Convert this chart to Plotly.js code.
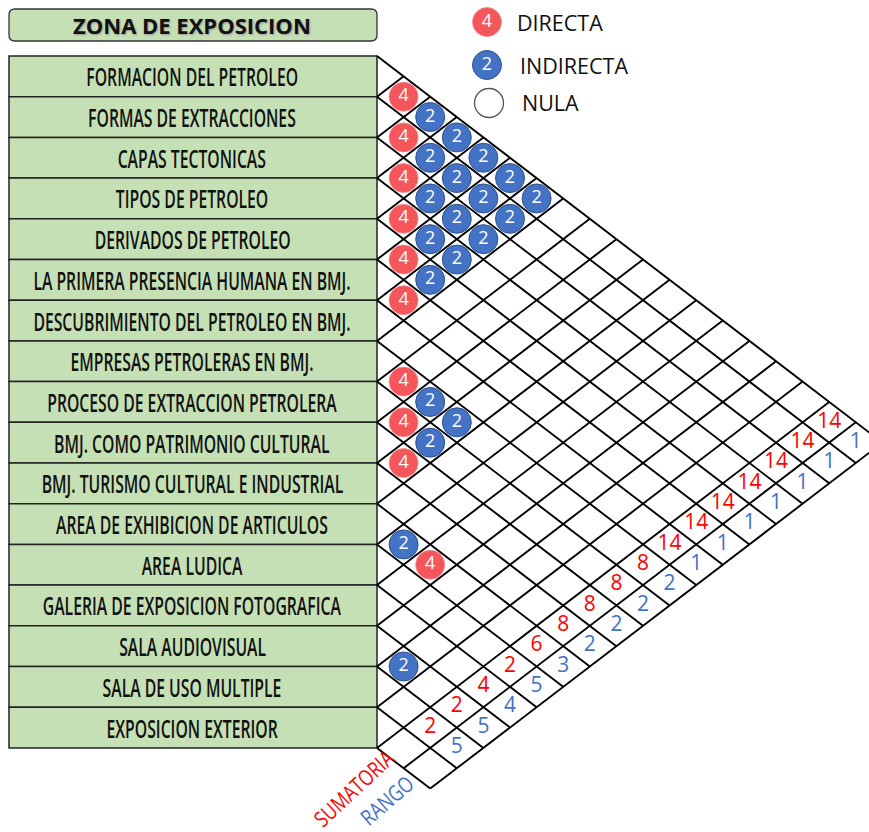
<!DOCTYPE html>
<html><head><meta charset="utf-8">
<script src="https://cdn.plot.ly/plotly-3.0.1.min.js"></script>
<style>html,body{margin:0;padding:0;background:#fff}</style>
</head><body>
<div id="chart" style="width:869px;height:832px"></div>
<script>
// ---------- data ----------
const items = [
  "FORMACION DEL PETROLEO",
  "FORMAS DE EXTRACCIONES",
  "CAPAS TECTONICAS",
  "TIPOS DE PETROLEO",
  "DERIVADOS DE PETROLEO",
  "LA PRIMERA PRESENCIA HUMANA EN BMJ.",
  "DESCUBRIMIENTO DEL PETROLEO EN BMJ.",
  "EMPRESAS PETROLERAS EN BMJ.",
  "PROCESO DE EXTRACCION PETROLERA",
  "BMJ. COMO PATRIMONIO CULTURAL",
  "BMJ. TURISMO CULTURAL E INDUSTRIAL",
  "AREA DE EXHIBICION DE ARTICULOS",
  "AREA LUDICA",
  "GALERIA DE EXPOSICION FOTOGRAFICA",
  "SALA AUDIOVISUAL",
  "SALA DE USO MULTIPLE",
  "EXPOSICION EXTERIOR"
];
const directFrom   = [0,1,2,3,4,5,7,8,9,11];
const directTo     = [1,2,3,4,5,6,8,9,10,13];
const directValue  = 4;
const indirectFrom = [0,1,2,3,4,0,1,2,3,0,1,2,0,1,0,7,7,8,11,14];
const indirectTo   = [2,3,4,5,6,3,4,5,6,4,5,6,5,6,6,9,10,10,12,15];
const indirectValue = 2;
const sumatoria = [14,14,14,14,14,14,14,8,8,8,8,6,2,4,2,2];
const rango     = [1,1,1,1,1,1,1,2,2,2,2,3,5,4,5,5];
const titleText = "ZONA DE EXPOSICION";
const legendLabels = ["DIRECTA","INDIRECTA","NULA"];

// ---------- geometry ----------
const W=869, H=832, X0=377, Y0=56, ROW=40.7, HW=26.6, BOXL=9;
const px2x = p => (p - X0) / HW;
const py2y = p => (p - Y0) / (ROW / 2);
const N = items.length, NR = N + 2;
const cellX = (i, j) => j - i;
const cellY = (i, j) => i + j + 1;

const RED = '#F4565B', BLUE = '#4472C4';
const NUMFONT = 'Open Sans, Noto Sans, sans-serif';
const LABFONT = 'Open Sans, sans-serif';

// grid lines
const gx = [], gy = [];
for (let k = 0; k <= N; k++) { gx.push(0, NR - k, null); gy.push(2*k, 2*k + NR - k, null); }
for (let k = 1; k <= NR; k++) { const xs = Math.max(0, k - N); gx.push(xs, k, null); gy.push(2*k - xs, k, null); }

const traces = [];
traces.push({type:'scatter', mode:'lines', x:gx, y:gy, line:{color:'#000', width:1.9},
  hoverinfo:'skip'});

traces.push({type:'scatter', mode:'markers+text',
  x: directFrom.map((a,n)=>cellX(a,directTo[n])),
  y: directFrom.map((a,n)=>cellY(a,directTo[n])),
  text: directFrom.map(()=>String(directValue)),
  textposition:'middle center',
  textfont:{family:NUMFONT, size:18, color:'#fff'},
  marker:{size:29, color:RED, line:{color:'#f08a8d', width:0.8}}, hoverinfo:'skip'});

traces.push({type:'scatter', mode:'markers+text',
  x: indirectFrom.map((a,n)=>cellX(a,indirectTo[n])),
  y: indirectFrom.map((a,n)=>cellY(a,indirectTo[n])),
  text: indirectFrom.map(()=>String(indirectValue)),
  textposition:'middle center',
  textfont:{family:NUMFONT, size:18, color:'#fff'},
  marker:{size:29, color:BLUE, line:{color:'#2F528F', width:1}}, hoverinfo:'skip'});

traces.push({type:'scatter', mode:'text',
  x: sumatoria.map((v,i)=>cellX(i,N)), y: sumatoria.map((v,i)=>cellY(i,N)),
  text: sumatoria.map(String), textposition:'middle center',
  textfont:{family:NUMFONT, size:21, color:'#FF0000'}, hoverinfo:'skip'});

traces.push({type:'scatter', mode:'text',
  x: rango.map((v,i)=>cellX(i,N+1)), y: rango.map((v,i)=>cellY(i,N+1)),
  text: rango.map(String), textposition:'middle center',
  textfont:{family:NUMFONT, size:21, color:'#4472C4'}, hoverinfo:'skip'});

// legend symbols
const legPx = [[487,22],[487,65],[489,103]];
traces.push({type:'scatter', mode:'markers+text',
  x: legPx.map(p=>px2x(p[0])), y: legPx.map(p=>py2y(p[1])),
  text:[String(directValue), String(indirectValue), ''], textposition:'middle center',
  textfont:{family:NUMFONT, size:18, color:'#fff'},
  marker:{size:29, color:[RED, BLUE, '#fff'], line:{color:['#f08a8d','#2F528F','#555'], width:[0.8,1,1.3]}},
  hoverinfo:'skip'});

// shapes: label boxes + title box
const shapes = [];
items.forEach((t,k)=>{
  shapes.push({type:'rect', xref:'x', yref:'y', x0:px2x(BOXL), x1:0, y0:2*k, y1:2*k+2,
    fillcolor:'#C5E0B4', line:{color:'#222', width:1.5}, layer:'below'});
});
(function(){
  const x0=px2x(9), x1=px2x(377), y0=py2y(9), y1=py2y(41), rx=6/HW, ry=6/(ROW/2);
  const p = `M ${x0+rx},${y0} L ${x1-rx},${y0} Q ${x1},${y0} ${x1},${y0+ry} L ${x1},${y1-ry} Q ${x1},${y1} ${x1-rx},${y1} L ${x0+rx},${y1} Q ${x0},${y1} ${x0},${y1-ry} L ${x0},${y0+ry} Q ${x0},${y0} ${x0+rx},${y0} Z`;
  shapes.push({type:'path', xref:'x', yref:'y', path:p, fillcolor:'#C5E0B4', line:{color:'#333', width:1.3}, layer:'below'});
})();

// annotations
const annotations = [];
const condensed = {};   // annotation index -> horizontal squeeze
items.forEach((t,k)=>{
  condensed[annotations.length] = 0.63;
  annotations.push({xref:'x', yref:'y', x:px2x(192), y:2*k+1, text:t, showarrow:false,
    font:{family:LABFONT, size:25, weight:600, color:'#111'}, xanchor:'center', yanchor:'middle'});
});
annotations.push({xref:'x', yref:'y', x:px2x(192), y:py2y(25), text:'<b>'+titleText+'</b>', showarrow:false,
  font:{family:NUMFONT, size:22, color:'#111', shadow:'1px 1px 2px #999'}, xanchor:'center', yanchor:'middle'});
const legTxt = [[515,22],[518,65],[520,102]];
legendLabels.forEach((t,n)=>{
  annotations.push({xref:'x', yref:'y', x:px2x(legTxt[n][0]), y:py2y(legTxt[n][1]), text:t, showarrow:false,
    font:{family:NUMFONT, size:21.5, color:'#111'}, xanchor:'left', yanchor:'middle'});
});
condensed[annotations.length] = 0.8;
annotations.push({xref:'x', yref:'y', x:px2x(353), y:py2y(788), text:'SUMATORIA', showarrow:false, textangle:-43,
  font:{family:LABFONT, size:22, color:'#FF0000'}, xanchor:'center', yanchor:'middle'});
condensed[annotations.length] = 0.8;
annotations.push({xref:'x', yref:'y', x:px2x(386), y:py2y(800), text:'RANGO', showarrow:false, textangle:-41,
  font:{family:LABFONT, size:22, color:'#4472C4'}, xanchor:'center', yanchor:'middle'});

const layout = {
  width:W, height:H, margin:{l:0,r:0,t:0,b:0,pad:0},
  paper_bgcolor:'#fff', plot_bgcolor:'#fff', showlegend:false,
  xaxis:{range:[px2x(0), px2x(W)], visible:false, fixedrange:true},
  yaxis:{range:[py2y(H), py2y(0)], visible:false, fixedrange:true},
  shapes, annotations
};
Plotly.newPlot('chart', traces, layout, {staticPlot:true, displayModeBar:false}).then(gd=>{
  Object.keys(condensed).forEach(idx=>{
    const t = gd.querySelector('.annotation[data-index="'+idx+'"] text.annotation-text');
    if (t) {
      t.style.transformBox = 'fill-box';
      t.style.transformOrigin = 'center';
      t.style.transform = 'scaleX(' + condensed[idx] + ')';
    }
  });
});
</script>
</body></html>
